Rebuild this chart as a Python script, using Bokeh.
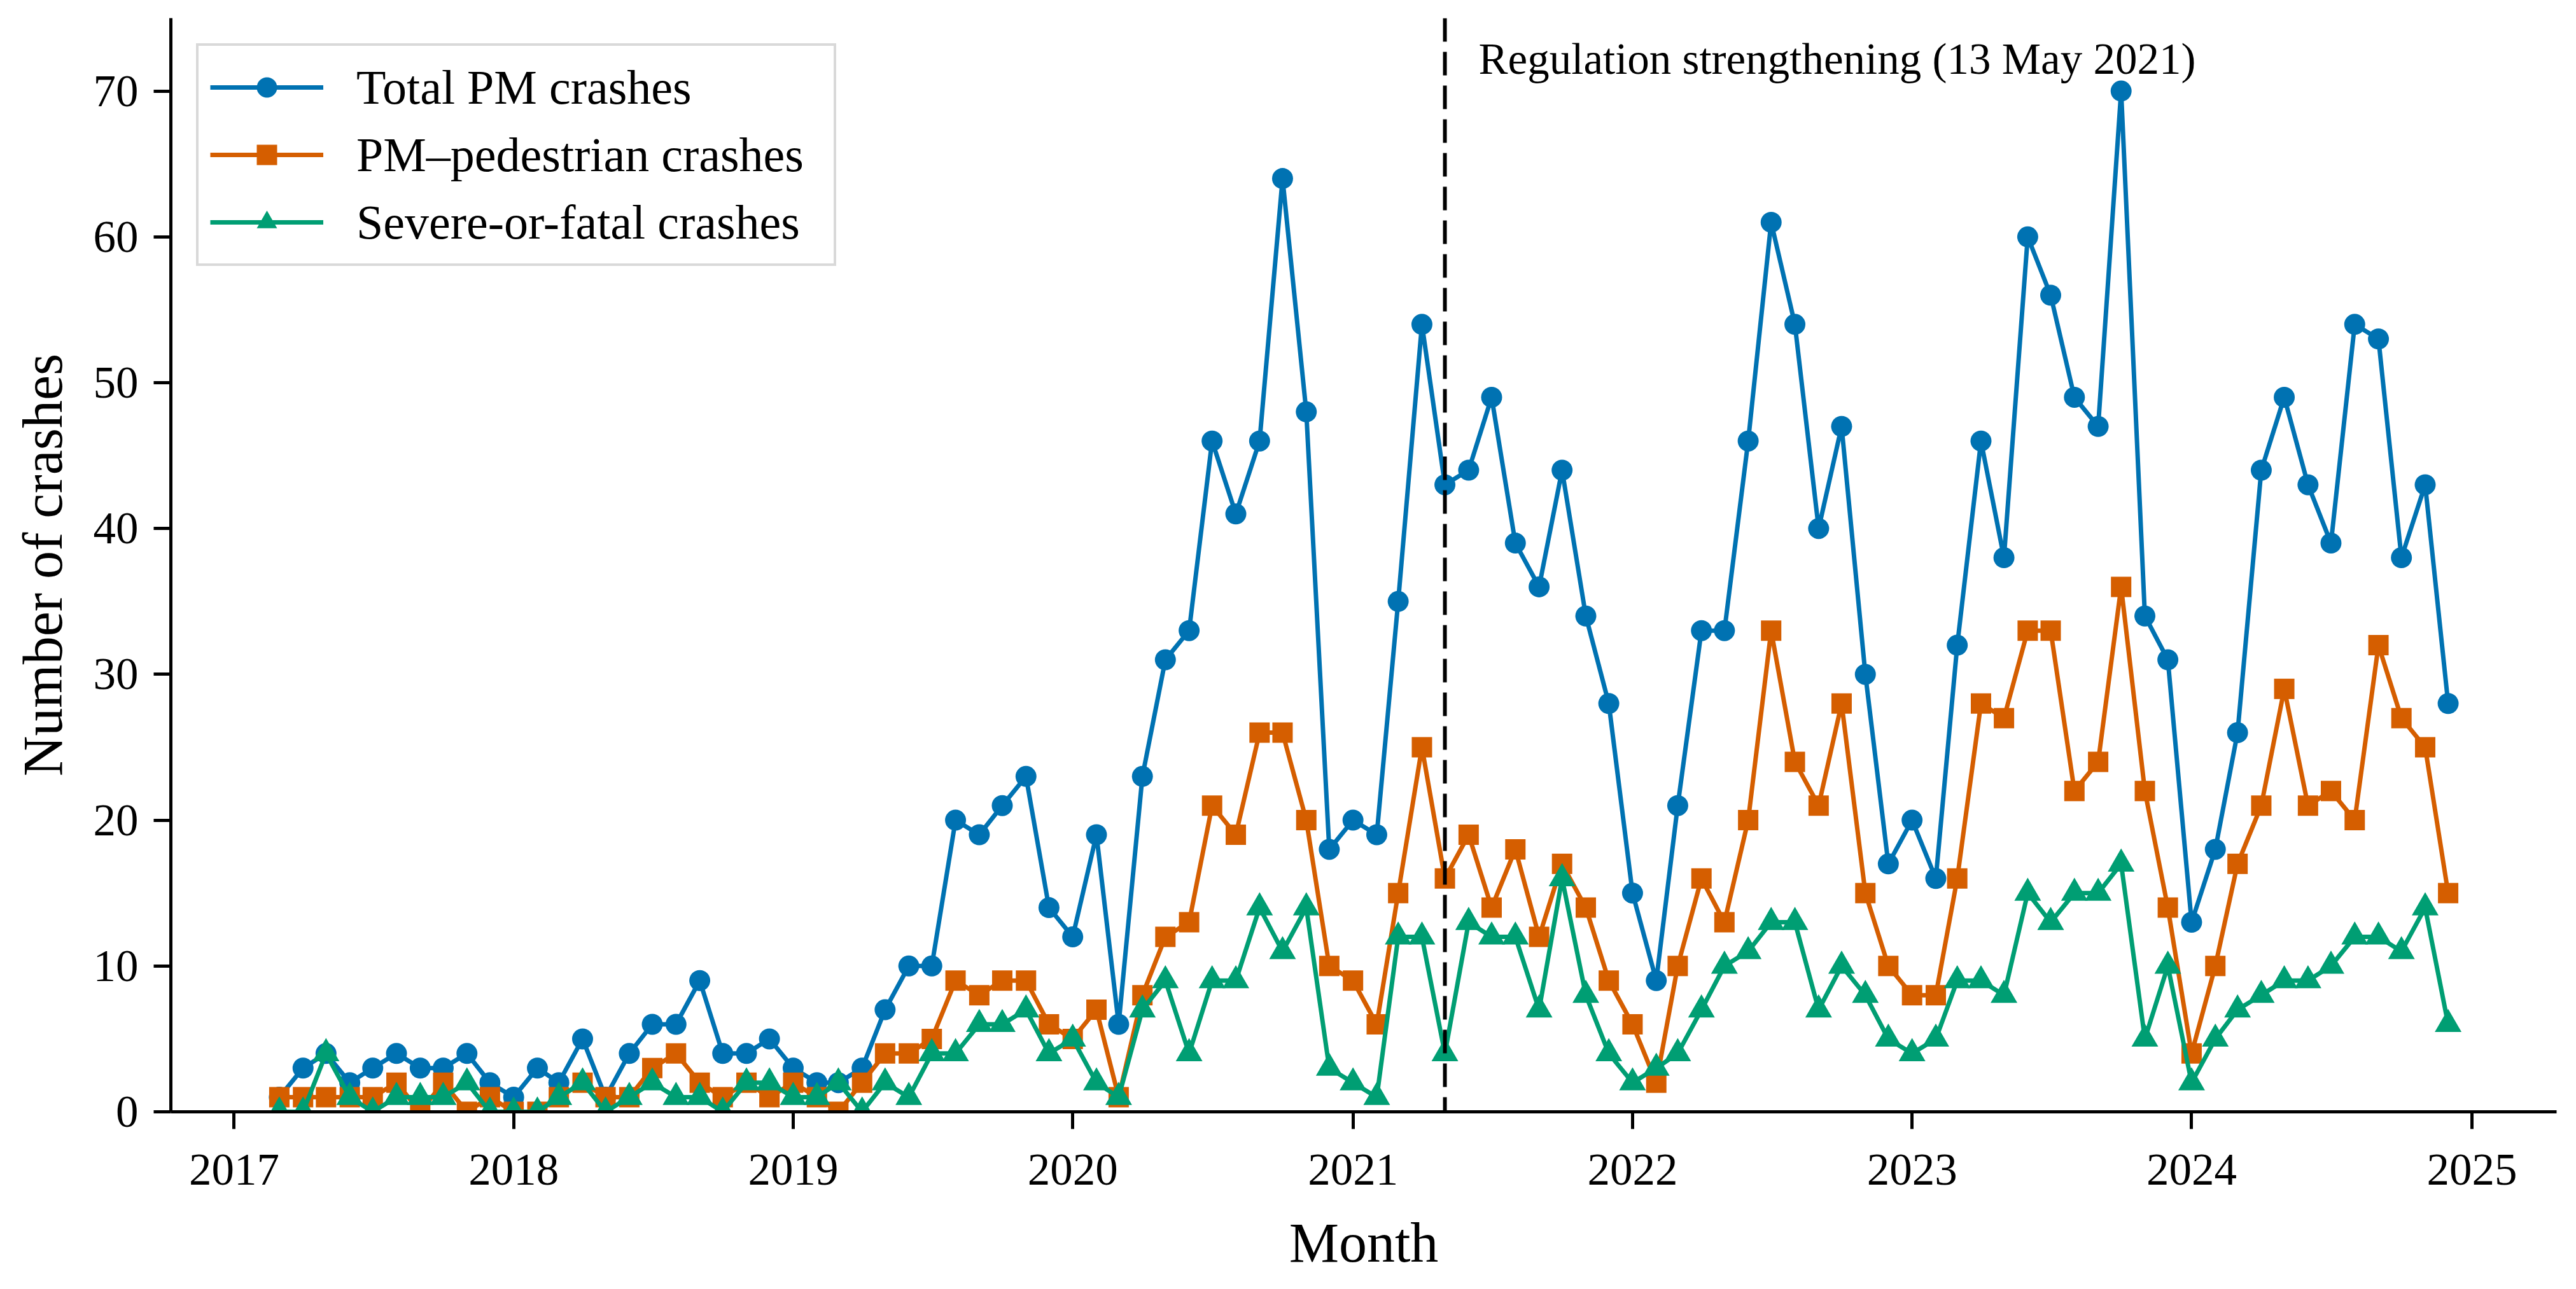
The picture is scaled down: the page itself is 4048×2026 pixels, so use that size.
import pandas as pd
from bokeh.plotting import figure
from bokeh.models import (Range1d, FixedTicker, Span, Label, Legend, LegendItem,
                          DatetimeTickFormatter)
from bokeh.embed import file_html
from bokeh.resources import INLINE

# ---------------- data ----------------
months = pd.date_range("2017-03-01", "2024-12-01", freq="MS")

total_pm = [1, 3, 4, 2, 3, 4, 3, 3, 4, 2,
            1, 3, 2, 5, 1, 4, 6, 6, 9, 4, 4, 5,
            3, 2, 2, 3, 7, 10, 10, 20, 19, 21, 23, 14,
            12, 19, 6, 23, 31, 33, 46, 41, 46, 64, 48, 18,
            20, 19, 35, 54, 43, 44, 49, 39, 36, 44, 34, 28,
            15, 9, 21, 33, 33, 46, 61, 54, 40, 47, 30, 17,
            20, 16, 32, 46, 38, 60, 56, 49, 47, 70, 34, 31,
            13, 18, 26, 44, 49, 43, 39, 54, 53, 38, 43, 28]

pm_pedestrian = [1, 1, 1, 1, 1, 2, 0, 2, 0, 1,
                 0, 0, 1, 2, 1, 1, 3, 4, 2, 1, 2, 1,
                 2, 1, 0, 2, 4, 4, 5, 9, 8, 9, 9, 6,
                 5, 7, 1, 8, 12, 13, 21, 19, 26, 26, 20, 10,
                 9, 6, 15, 25, 16, 19, 14, 18, 12, 17, 14, 9,
                 6, 2, 10, 16, 13, 20, 33, 24, 21, 28, 15, 10,
                 8, 8, 16, 28, 27, 33, 33, 22, 24, 36, 22, 14,
                 4, 10, 17, 21, 29, 21, 22, 20, 32, 27, 25, 15]

severe_fatal = [0, 0, 4, 1, 0, 1, 1, 1, 2, 0,
                0, 0, 1, 2, 0, 1, 2, 1, 1, 0, 2, 2,
                1, 1, 2, 0, 2, 1, 4, 4, 6, 6, 7, 4,
                5, 2, 1, 7, 9, 4, 9, 9, 14, 11, 14, 3,
                2, 1, 12, 12, 4, 13, 12, 12, 7, 16, 8, 4,
                2, 3, 4, 7, 10, 11, 13, 13, 7, 10, 8, 5,
                4, 5, 9, 9, 8, 15, 13, 15, 15, 17, 5, 10,
                2, 5, 7, 8, 9, 9, 10, 12, 12, 11, 14, 6]

series_labels = ["Total PM crashes", "PM\u2013pedestrian crashes", "Severe-or-fatal crashes"]
year_ticks = [2017, 2018, 2019, 2020, 2021, 2022, 2023, 2024, 2025]
y_ticks = [0, 10, 20, 30, 40, 50, 60, 70]
regulation_date = "2021-05-13"
regulation_text = "Regulation strengthening (13 May 2021)"

# ---------------- styling ----------------
FONT = "Liberation Serif"
BLUE, ORANGE, GREEN = "#0072B2", "#D55E00", "#009E73"

def ms(ts):
    return pd.Timestamp(ts).value / 1e6

span_days = (months[-1] - months[0])
pad = span_days * 0.05
x_start = months[0] - pad
x_end = months[-1] + pad

p = figure(width=4032, height=2010, x_axis_type="datetime",
           output_backend="svg", toolbar_location=None,
           x_range=Range1d(ms(x_start), ms(x_end)),
           y_range=Range1d(0, 75),
           min_border_left=268, min_border_right=15,
           min_border_top=28, min_border_bottom=263)
p.outline_line_color = None
p.xgrid.grid_line_color = None
p.ygrid.grid_line_color = None
p.background_fill_color = "white"

x = [ms(m) for m in months]

renderers = []
for vals, color, marker, size in [(total_pm, BLUE, "circle", 33),
                                  (pm_pedestrian, ORANGE, "square", 32),
                                  (severe_fatal, GREEN, "triangle", 42)]:
    lr = p.line(x, vals, line_color=color, line_width=7)
    sr = p.scatter(x, vals, marker=marker, size=size, fill_color=color,
                   line_color=color, line_width=0)
    renderers.append([lr, sr])

# regulation line
reg_x = ms(pd.Timestamp(regulation_date).to_period("M").to_timestamp())
p.add_layout(Span(location=reg_x, dimension="height", line_color="black",
                  line_width=6, line_dash="37 16"))
p.add_layout(Label(x=reg_x, y=72.2, x_offset=53, text=regulation_text,
                   text_font=FONT, text_font_size="69px", text_color="black",
                   text_baseline="alphabetic", text_align="left"))

# axes
for ax in (p.xaxis[0], p.yaxis[0]):
    ax.axis_line_width = 5
    ax.axis_line_color = "black"
    ax.major_tick_line_width = 5
    ax.major_tick_line_color = "black"
    ax.major_tick_out = 27
    ax.major_tick_in = 0
    ax.minor_tick_out = 0
    ax.minor_tick_in = 0
    ax.major_label_text_font = FONT
    ax.major_label_text_font_size = "71px"
    ax.major_label_text_color = "black"
    ax.axis_label_text_font = FONT
    ax.axis_label_text_font_size = "88px"
    ax.axis_label_text_font_style = "normal"
    ax.axis_label_text_color = "black"

p.xaxis[0].ticker = FixedTicker(ticks=[ms(f"{y}-01-01") for y in year_ticks])
p.xaxis[0].formatter = DatetimeTickFormatter(years="%Y", months="%Y", days="%Y",
                                             hours="%Y", minutes="%Y", seconds="%Y")
p.xaxis[0].axis_label = "Month"
p.xaxis[0].major_label_standoff = 40
p.xaxis[0].axis_label_standoff = 40

p.yaxis[0].ticker = FixedTicker(ticks=y_ticks)
p.yaxis[0].axis_label = "Number of crashes"
p.yaxis[0].major_label_standoff = 24
p.yaxis[0].axis_label_standoff = 28

legend = Legend(items=[LegendItem(label=lab, renderers=r)
                       for lab, r in zip(series_labels, renderers)],
                location="top_left", margin=40,
                label_text_font=FONT, label_text_font_size="76px",
                label_text_color="black",
                glyph_width=178, glyph_height=80, label_height=94,
                label_width=732,
                label_standoff=52, padding=18, spacing=12,
                border_line_color="#b3b3b3", border_line_width=4,
                background_fill_color="white", background_fill_alpha=0.8)
p.add_layout(legend)

open("out.html", "w").write(file_html(p, INLINE))
